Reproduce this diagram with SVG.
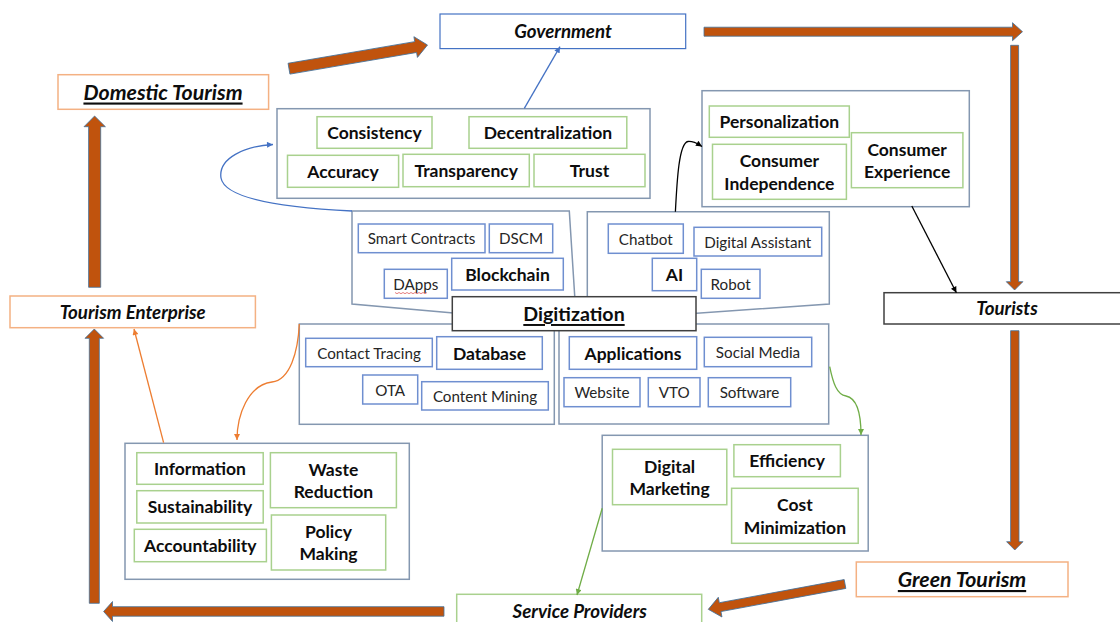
<svg xmlns="http://www.w3.org/2000/svg" width="1120" height="622" viewBox="0 0 1120 622">
<style>
text{font-family:Lato,"Liberation Sans",sans-serif;fill:#0d0d0d;dominant-baseline:central;text-anchor:middle}
.t{font-weight:bold;font-style:italic;font-size:18.7px}
.tb{font-weight:bold;font-style:italic;font-size:21.3px;text-decoration:underline}
.g{font-weight:bold;font-size:17.5px}
.n{font-size:15.2px;fill:#262626}
.nb{font-weight:bold;font-size:17.5px}
.or{fill:#fff;stroke:#F4B183;stroke-width:1.5}
.bl{fill:#fff;stroke:#4472C4;stroke-width:1.2}
.gr{fill:#fff;stroke:#A9D18E;stroke-width:1.5}
.bx{fill:#fff;stroke:#6F8FD0;stroke-width:1.5}
.dk{fill:#fff;stroke:#404040;stroke-width:1.5}
.ct{fill:#fff;stroke:#8497B0;stroke-width:1.5}
.ba{fill:#C0530D;stroke:#41719C;stroke-width:0.8}
.ln{fill:none;stroke-width:1.3}
</style>
<defs>
<marker id="mb" viewBox="0 0 8 8" refX="8" refY="4" markerWidth="7" markerHeight="6" markerUnits="userSpaceOnUse" orient="auto"><path d="M0,0L8,4L0,8z" fill="#4472C4"/></marker>
<marker id="mk" viewBox="0 0 8 8" refX="8" refY="4" markerWidth="7" markerHeight="6" markerUnits="userSpaceOnUse" orient="auto"><path d="M0,0L8,4L0,8z" fill="#000"/></marker>
<marker id="mo" viewBox="0 0 8 8" refX="8" refY="4" markerWidth="7" markerHeight="6" markerUnits="userSpaceOnUse" orient="auto"><path d="M0,0L8,4L0,8z" fill="#ED7D31"/></marker>
<marker id="mg" viewBox="0 0 8 8" refX="8" refY="4" markerWidth="7" markerHeight="6" markerUnits="userSpaceOnUse" orient="auto"><path d="M0,0L8,4L0,8z" fill="#70AD47"/></marker>
</defs>
<rect width="1120" height="622" fill="#fff"/>

<!-- containers -->
<g id="c-blockchain-outcomes"><rect class="ct" x="277" y="108.7" width="373" height="89.6"/></g>
<g id="c-blockchain"><polygon class="ct" points="352,211 569.3,211 576.5,324 352,304"/></g>
<g id="c-ai"><polygon class="ct" points="587.3,211.7 829.3,211.7 829.3,304 587.3,321"/></g>
<g id="c-ai-outcomes"><rect class="ct" x="702" y="90.7" width="267.3" height="116"/></g>
<g id="c-database"><rect class="ct" x="299.3" y="324" width="255" height="100.3"/></g>
<g id="c-applications"><rect class="ct" x="559" y="324" width="269.7" height="100"/></g>
<g id="c-database-outcomes"><rect class="ct" x="125" y="443.3" width="284.3" height="136"/></g>
<g id="c-applications-outcomes"><rect class="ct" x="602.2" y="435.3" width="266" height="115.7"/></g>

<!-- main nodes -->
<g id="government"><rect class="bl" x="440" y="14" width="245.7" height="34.6"/><text class="t" x="563" y="30.5">Government</text></g>
<g id="domestic-tourism"><rect class="or" x="58" y="74.7" width="210.6" height="34.6"/><text class="tb" x="163" y="91.5">Domestic Tourism</text></g>
<g id="tourism-enterprise"><rect class="or" x="10" y="296" width="245.4" height="31.7"/><text class="t" x="132.7" y="311.5">Tourism Enterprise</text></g>
<g id="tourists"><rect class="dk" x="884" y="292.7" width="245" height="31.3"/><text class="t" x="1007" y="308">Tourists</text></g>
<g id="green-tourism"><rect class="or" x="856.3" y="562" width="211.7" height="34.7"/><text class="tb" x="962" y="579">Green Tourism</text></g>
<g id="service-providers"><rect class="gr" x="456.7" y="594.3" width="245" height="40"/><text class="t" x="579.7" y="610.5">Service Providers</text></g>

<!-- green outcome boxes -->
<g id="consistency"><rect class="gr" x="317" y="116.7" width="115" height="31.6"/><text class="g" x="374.5" y="132.5">Consistency</text></g>
<g id="decentralization"><rect class="gr" x="469" y="116.7" width="157.8" height="31.6"/><text class="g" x="547.9" y="132.5">Decentralization</text></g>
<g id="accuracy"><rect class="gr" x="287.5" y="155.3" width="111.1" height="32"/><text class="g" x="343" y="171.3">Accuracy</text></g>
<g id="transparency"><rect class="gr" x="403" y="154.3" width="126.3" height="32.4"/><text class="g" x="466.2" y="170.5">Transparency</text></g>
<g id="trust"><rect class="gr" x="534" y="154.3" width="111" height="32.4"/><text class="g" x="589.5" y="170.5">Trust</text></g>
<g id="personalization"><rect class="gr" x="709.3" y="106" width="140" height="31.3"/><text class="g" x="779.3" y="121.7">Personalization</text></g>
<g id="consumer-independence"><rect class="gr" x="712.5" y="144.3" width="133.9" height="55"/><text class="g" x="779.4" y="160.8">Consumer</text><text class="g" x="779.4" y="183">Independence</text></g>
<g id="consumer-experience"><rect class="gr" x="851.4" y="132.7" width="111.5" height="55"/><text class="g" x="907.1" y="149.2">Consumer</text><text class="g" x="907.1" y="171.4">Experience</text></g>
<g id="information"><rect class="gr" x="136.8" y="452.7" width="126.4" height="31.6"/><text class="g" x="200" y="468.5">Information</text></g>
<g id="waste-reduction"><rect class="gr" x="270.4" y="452.7" width="126" height="55"/><text class="g" x="333.4" y="469.2">Waste</text><text class="g" x="333.4" y="491.4">Reduction</text></g>
<g id="sustainability"><rect class="gr" x="136.8" y="490.7" width="126.4" height="32.3"/><text class="g" x="200" y="506.8">Sustainability</text></g>
<g id="accountability"><rect class="gr" x="134.3" y="529.3" width="132.1" height="32.4"/><text class="g" x="200.3" y="545.5">Accountability</text></g>
<g id="policy-making"><rect class="gr" x="271.4" y="515" width="114.3" height="55"/><text class="g" x="328.5" y="531.5">Policy</text><text class="g" x="328.5" y="553.7">Making</text></g>
<g id="digital-marketing"><rect class="gr" x="612.5" y="449.3" width="114.3" height="55.4"/><text class="g" x="669.6" y="466">Digital</text><text class="g" x="669.6" y="488.2">Marketing</text></g>
<g id="efficiency"><rect class="gr" x="733.9" y="444.7" width="106.5" height="32"/><text class="g" x="787.1" y="460.7">Efficiency</text></g>
<g id="cost-minimization"><rect class="gr" x="731.6" y="488.3" width="126.6" height="55"/><text class="g" x="794.9" y="504.8">Cost</text><text class="g" x="794.9" y="527">Minimization</text></g>

<!-- blue technology boxes -->
<g id="smart-contracts"><rect class="bx" x="358.3" y="224" width="126.7" height="28.7"/><text class="n" x="421.6" y="238.3">Smart Contracts</text></g>
<g id="dscm"><rect class="bx" x="489.3" y="224" width="63.4" height="28.7"/><text class="n" x="521" y="238.3">DSCM</text></g>
<g id="blockchain"><rect class="bx" x="451.7" y="258.3" width="111.6" height="31.7"/><text class="nb" x="507.5" y="274.2">Blockchain</text></g>
<g id="dapps"><rect class="bx" x="384.3" y="269.3" width="63" height="29"/><text class="n" x="415.8" y="283.8">DApps</text><path d="M395,292.5l2,1.2l2,-1.2l2,1.2l2,-1.2l2,1.2l2,-1.2l2,1.2l2,-1.2l2,1.2l2,-1.2l2,1.2l2,-1.2l2,1.2l2,-1.2l2,1.2l2,-1.2" fill="none" stroke="#E06060" stroke-width="0.8"/></g>
<g id="chatbot"><rect class="bx" x="608.3" y="224" width="75" height="29.3"/><text class="n" x="645.8" y="238.6">Chatbot</text></g>
<g id="digital-assistant"><rect class="bx" x="694" y="227.3" width="127.7" height="28.7"/><text class="n" x="757.8" y="241.6">Digital Assistant</text></g>
<g id="ai"><rect class="bx" x="652.3" y="258.3" width="44.4" height="32.4"/><text class="nb" x="674.5" y="274.5">AI</text></g>
<g id="robot"><rect class="bx" x="701.3" y="269.3" width="58.7" height="29"/><text class="n" x="730.6" y="283.8">Robot</text></g>
<g id="contact-tracing"><rect class="bx" x="305.7" y="338.3" width="126.6" height="28.4"/><text class="n" x="369" y="352.5">Contact Tracing</text></g>
<g id="database"><rect class="bx" x="436.7" y="336.7" width="105.6" height="32.6"/><text class="nb" x="489.5" y="353">Database</text></g>
<g id="ota"><rect class="bx" x="362.7" y="375" width="55" height="29"/><text class="n" x="390.2" y="389.5">OTA</text></g>
<g id="content-mining"><rect class="bx" x="421.7" y="381.7" width="126.6" height="28.3"/><text class="n" x="485" y="395.8">Content Mining</text></g>
<g id="applications"><rect class="bx" x="569.3" y="336.7" width="127.4" height="32.6"/><text class="nb" x="633" y="353">Applications</text></g>
<g id="social-media"><rect class="bx" x="704.3" y="337.3" width="107.4" height="29.4"/><text class="n" x="758" y="352">Social Media</text></g>
<g id="website"><rect class="bx" x="564" y="377.7" width="76" height="29"/><text class="n" x="602" y="392.2">Website</text></g>
<g id="vto"><rect class="bx" x="648.3" y="377.7" width="51.7" height="29"/><text class="n" x="674.2" y="392.2">VTO</text></g>
<g id="software"><rect class="bx" x="708.3" y="377.7" width="82.4" height="29"/><text class="n" x="749.5" y="392.2">Software</text></g>

<g id="digitization"><rect class="dk" x="452.3" y="296.7" width="243.7" height="34"/><text x="574" y="313.5" style="font-weight:bold;font-size:19.6px;text-decoration:underline">Digitization</text></g>

<!-- connectors -->
<g id="connectors">
<polygon class="ba" points="88.6,287.3 88.6,126.7 84,126.7 94.6,116 105.4,126.7 100.7,126.7 100.7,287.3"/>
<polygon class="ba" transform="translate(289,68.7) rotate(-9.7)" points="0,-5.5 128.5,-5.5 128.5,-10.5 140.5,0 128.5,10.5 128.5,5.5 0,5.5"/>
<polygon class="ba" points="704,27.2 1012.5,27.2 1012.5,22.7 1022.5,31.7 1012.5,40.7 1012.5,36.2 704,36.2"/>
<polygon class="ba" points="1010.6,45.3 1018.6,45.3 1018.6,281.7 1022.9,281.7 1014.6,290 1006.3,281.7 1010.6,281.7"/>
<polygon class="ba" points="1010.6,330.7 1019,330.7 1019,541.7 1023,541.7 1014.8,550 1006.6,541.7 1010.6,541.7"/>
<polygon class="ba" transform="translate(845,584) rotate(169.5)" points="0,-4.5 127,-4.5 127,-10 139,0 127,10 127,4.5 0,4.5"/>
<polygon class="ba" points="444,606.7 112.5,606.7 112.5,601.5 103.6,611.5 112.5,621.5 112.5,616.2 444,616.2"/>
<polygon class="ba" points="89.3,603.3 89.3,338.3 85,338.3 94.3,329 103.6,338.3 99.3,338.3 99.3,603.3"/>

<path class="ln" stroke="#4472C4" d="M524.3,108.3L560,46.7" marker-end="url(#mb)"/>
<path class="ln" stroke="#4472C4" d="M352,211C290,208 225,200 221,178C218,158 245,146 273,144.5" marker-end="url(#mb)"/>
<path class="ln" stroke="#000" d="M675.4,211.7C677,180 679,143 688,141.5C694,141 698,144 702,146.5" marker-end="url(#mk)"/>
<path class="ln" stroke="#000" d="M911.8,206L956.4,292.7" marker-end="url(#mk)"/>
<path class="ln" stroke="#ED7D31" d="M163.6,442.7L134,329" marker-end="url(#mo)"/>
<path class="ln" stroke="#ED7D31" d="M299.3,324C298,352 290,380 272,382C248,385 237,415 237,440" marker-end="url(#mo)"/>
<path class="ln" stroke="#70AD47" d="M829.7,366.7C833,383 837,395 846,396C856,398 861,412 861,435" marker-end="url(#mg)"/>
<path class="ln" stroke="#70AD47" d="M602.2,508.3L577,595" marker-end="url(#mg)"/>
</g>
</svg>
